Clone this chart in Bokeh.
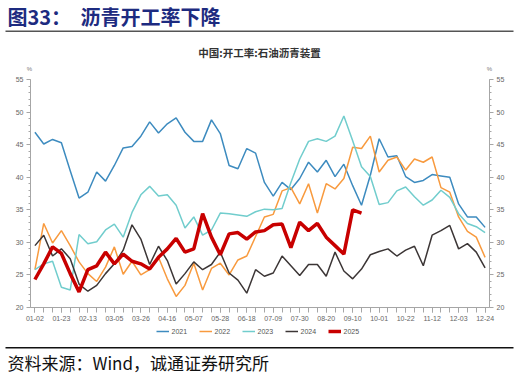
from bokeh.plotting import figure
from bokeh.models import (LinearAxis, FixedTicker, Label, BoxAnnotation, Legend, LegendItem, Range1d)
from bokeh.embed import file_html
from bokeh.resources import INLINE

tick_labels = ["01-02", "01-23", "02-13", "03-05", "03-26", "04-16", "05-07", "05-28", "06-18",
               "07-09", "07-30", "08-20", "09-10", "10-01", "10-22", "11-12", "12-03", "12-24"]
years = ["2021", "2022", "2023", "2024", "2025"]
y2021 = [46.9, 45.1, 45.8, 45.3, 41.0, 36.8, 37.7, 40.8, 39.4, 41.8,
         44.5, 44.7, 46.3, 48.5, 46.8, 48.2, 49.1, 46.9, 45.5, 45.5,
         48.8, 46.7, 41.8, 41.3, 44.4, 43.7, 39.2, 37.1, 39.2, 38.1,
         39.8, 42.3, 40.8, 42.6, 40.1, 42.0, 38.7, 35.7, 40.3, 45.9,
         43.1, 43.3, 40.1, 39.2, 39.5, 40.4, 40.2, 40.0, 35.9, 33.9, 33.9, 32.3]
y2022 = [25.8, 32.9, 29.9, 31.8, 29.5, 27.0, 25.2, 24.0, 26.2, 29.3,
         25.1, 27.1, 25.0, 25.8, 27.7, 24.4, 21.7, 23.4, 26.8, 22.7,
         26.0, 26.8, 25.0, 27.3, 27.9, 30.9, 33.9, 34.3, 37.9, 38.4,
         35.9, 39.0, 34.5, 39.0, 38.2, 39.8, 44.6, 44.4, 46.3, 40.8,
         42.6, 43.1, 41.1, 42.8, 42.3, 43.1, 38.4, 37.7, 33.9, 31.7, 30.8, 27.7]
y2023 = [25.8, 26.7, 27.1, 23.1, 22.7, 31.2, 29.8, 30.1, 31.9, 32.8,
         30.8, 34.6, 37.3, 38.6, 37.1, 37.3, 35.7, 32.2, 33.9, 31.1,
         31.9, 34.5, 34.4, 34.2, 34.0, 34.7, 35.1, 35.0, 35.2, 39.2,
         42.8, 45.5, 45.9, 45.5, 46.3, 49.4, 45.6, 41.6, 40.1, 35.8,
         36.1, 37.9, 38.5, 37.0, 35.7, 36.5, 38.0, 36.9, 34.4, 32.9, 32.4, 31.5]
y2024 = [29.5, 31.1, 27.9, 29.0, 27.5, 23.6, 22.5, 23.4, 25.2, 26.7,
         28.8, 32.7, 30.5, 26.6, 29.4, 27.2, 23.6, 25.2, 27.0, 25.8,
         26.6, 28.5, 25.3, 24.2, 22.2, 25.8, 24.8, 25.3, 27.9, 26.4,
         24.9, 26.6, 26.6, 24.8, 28.5, 25.6, 24.4, 25.9, 28.1, 28.6,
         29.0, 27.9, 28.8, 29.4, 26.4, 31.1, 31.8, 32.6, 29.0, 29.8, 28.5, 26.1]
y2025 = [24.3, 26.7, 29.3, 28.3, 25.2, 22.4, 25.8, 26.4, 28.5, 26.7,
         28.2, 27.1, 26.7, 25.9, 27.7, 29.0, 30.6, 28.5, 29.0, 34.4,
         30.8, 28.1, 31.3, 31.5, 30.5, 31.6, 31.8, 32.7, 32.8, 29.2,
         33.1, 31.8, 32.9, 30.8, 29.5, 28.2, 35.0, 34.5]
series = [y2021, y2022, y2023, y2024, y2025]
colors = ["#3D8BBF", "#F89A3E", "#71CDCD", "#3C3636", "#C80000"]
widths = [1.5, 1.5, 1.5, 1.5, 3.5]

W = 519

def blank(h, y0):
    f = figure(width=W, height=h, output_backend="svg", toolbar_location=None,
               x_range=Range1d(0, W), y_range=Range1d(y0 + h, y0),
               min_border=0, min_border_left=0, min_border_right=0,
               min_border_top=0, min_border_bottom=0)
    f.axis.visible = False
    f.grid.visible = False
    f.outline_line_color = None
    return f

def lab(f, text, x, y, size, color="#333333", style="normal", font="Noto Sans CJK SC", align="left"):
    f.add_layout(Label(x=x, y=y, text=text, text_font=font, text_font_size=size,
                       text_color=color, text_font_style=style, text_align=align,
                       text_baseline="middle"))

# header
hdr = blank(75, 0)
lab(hdr, "图33：", 7, 16, "20px", color="#1D2B80", style="bold")
lab(hdr, "沥青开工率下降", 80, 16, "20px", color="#1D2B80", style="bold")
hdr.add_layout(BoxAnnotation(left=5, right=513, top=30, bottom=31.5,
                             fill_color="#555555", fill_alpha=1, line_color=None))
lab(hdr, "中国:开工率:石油沥青装置", 259, 52, "10.5px", color="#333333", style="bold", align="center")
lab(hdr, "%", 29, 68, "6px", color="#777777", font="Arial", align="center")
lab(hdr, "%", 489, 68, "6px", color="#777777", font="Arial", align="center")

# main chart
p = figure(width=W, height=250, output_backend="svg", toolbar_location=None,
           x_range=Range1d(-0.5, 51.5), y_range=Range1d(20, 55),
           min_border_left=30, min_border_right=30, min_border_top=4, min_border_bottom=18)
p.outline_line_color = None
p.xgrid.visible = False
p.ygrid.visible = False

xt = FixedTicker(ticks=list(range(0, 52, 3)), minor_ticks=list(range(0, 52)))
p.xaxis.ticker = xt
p.xaxis.major_label_overrides = {i * 3: lab_ for i, lab_ in enumerate(tick_labels)}
yt = FixedTicker(ticks=[20, 25, 30, 35, 40, 45, 50, 55], minor_ticks=list(range(20, 56)))
p.add_layout(LinearAxis(ticker=yt), "right")
p.yaxis.ticker = yt
for ax in p.xaxis + p.yaxis:
    ax.axis_line_color = "#A6A6A6"
    ax.major_tick_line_color = "#A6A6A6"
    ax.minor_tick_line_color = "#A6A6A6"
    ax.major_label_text_color = "#666666"
    ax.major_label_text_font = "Arial"
    ax.major_label_text_font_size = "7px"
    ax.major_label_standoff = 3
p.xaxis.major_tick_out = 5
p.xaxis.major_tick_in = 0
p.xaxis.minor_tick_out = 5
p.xaxis.minor_tick_in = 0
for ax in p.yaxis:
    ax.major_tick_out = 4
    ax.major_tick_in = 0
    ax.minor_tick_out = 2
    ax.minor_tick_in = 0

for ys, c, w in zip(series, colors, widths):
    p.line(list(range(len(ys))), ys, line_color=c, line_width=w)

# footer with legend and source
ftr = blank(53, 325)
items = []
for yr, ys, c, w in zip(years, series, colors, widths):
    # same series, outside this panel's view: only used as legend swatches
    r = ftr.line(list(range(len(ys))), ys, line_color=c, line_width=w)
    items.append(LegendItem(label=yr, renderers=[r]))
leg = Legend(items=items, orientation="horizontal", location="top_center",
             label_text_font_size="7px", label_text_color="#555555", label_text_font="Arial",
             glyph_width=13, glyph_height=8, label_height=8, label_standoff=3, spacing=7,
             padding=0, margin=2, border_line_color=None, background_fill_alpha=0)
ftr.add_layout(leg, "center")
ftr.add_layout(BoxAnnotation(left=5, right=513, top=346.5, bottom=348,
                             fill_color="#111111", fill_alpha=1, line_color=None))
lab(ftr, "资料来源：Wind，诚通证券研究所", 7, 362, "17px", color="#111111")

open("out.html", "w").write(file_html([hdr, p, ftr], INLINE))
